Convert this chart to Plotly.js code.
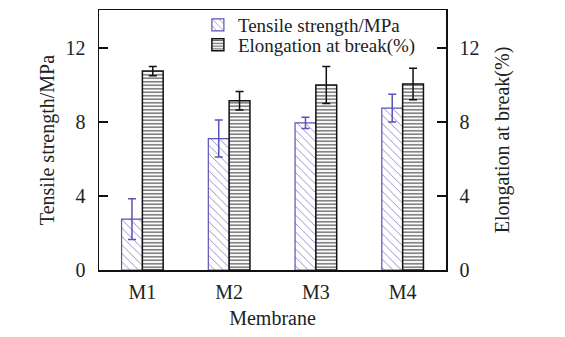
<!DOCTYPE html>
<html>
<head>
<meta charset="utf-8">
<script src="https://cdn.plot.ly/plotly-3.0.1.min.js"></script>
<style>html,body{margin:0;padding:0;background:#fff;}#chart{width:565px;height:337px;}</style>
</head>
<body>
<div id="chart"></div>
<script>
const membranes = ['M1', 'M2', 'M3', 'M4'];
const tensileStrength = [2.75, 7.1, 7.95, 8.75];
const tensileError = [1.1, 1.0, 0.3, 0.75];
const elongation = [10.75, 9.15, 10.0, 10.05];
const elongationError = [0.25, 0.5, 1.0, 0.85];
const yTicks = [0, 4, 8, 12];

const serif = 'Liberation Serif, Times New Roman, serif';
const blue = '#5a52b4';

const traces = [
  {
    type: 'bar', name: 'Tensile strength/MPa',
    x: membranes, y: tensileStrength,
    xaxis: 'x', yaxis: 'y', offsetgroup: 'a', legend: 'legend',
    marker: {
      color: 'white',
      line: {color: blue, width: 1.2},
      pattern: {shape: '\\', fgcolor: '#8a84c8', bgcolor: 'white', size: 6, solidity: 0.15}
    },
    error_y: {type: 'data', array: tensileError, visible: true, color: blue, thickness: 1.5, width: 4}
  },
  {
    type: 'bar', name: 'Elongation at break(%)',
    x: membranes, y: elongation,
    xaxis: 'x', yaxis: 'y2', offsetgroup: 'b', legend: 'legend2',
    marker: {
      color: 'white',
      line: {color: '#111', width: 1.5},
      pattern: {shape: '-', fgcolor: '#666', bgcolor: 'white', size: 3.5, solidity: 0.4}
    },
    error_y: {type: 'data', array: elongationError, visible: true, color: '#111', thickness: 1.5, width: 4}
  }
];

const legendFont = {family: serif, size: 19, color: '#222'};
const layout = {
  width: 565, height: 337,
  margin: {l: 99, r: 119, t: 10, b: 67, autoexpand: false},
  paper_bgcolor: 'white', plot_bgcolor: 'white',
  font: {family: serif, size: 19, color: '#222'},
  barmode: 'group', bargap: 0.52, bargroupgap: 0,
  showlegend: true,
  legend: {
    x: 0.285, y: 0.942, xanchor: 'left', yanchor: 'middle',
    bgcolor: 'rgba(0,0,0,0)', font: legendFont, itemwidth: 30
  },
  legend2: {
    x: 0.285, y: 0.866, xanchor: 'left', yanchor: 'middle',
    bgcolor: 'rgba(0,0,0,0)', font: legendFont, itemwidth: 30
  },
  xaxis: {
    range: [-0.5, 3.5], showline: true, mirror: true, linecolor: '#111', linewidth: 1.5,
    ticks: '', showgrid: false, zeroline: false, ticklabelstandoff: 3,
    tickfont: {family: serif, size: 20},
    title: {text: 'Membrane', font: {family: serif, size: 20}, standoff: 9}
  },
  yaxis: {
    range: [0, 14.05], tickvals: yTicks, ticks: 'inside', ticklen: 9, tickwidth: 1.2, tickcolor: '#111',
    showline: true, linecolor: '#111', linewidth: 1.5, showgrid: false, zeroline: false,
    ticklabelstandoff: 8, tickfont: {family: serif, size: 20},
    title: {text: 'Tensile strength/MPa', font: {family: serif, size: 20}, standoff: 5}
  },
  yaxis2: {
    range: [0, 14.05], tickvals: yTicks, ticks: 'inside', ticklen: 9, tickwidth: 1.2, tickcolor: '#111',
    overlaying: 'y', side: 'right', showline: true, linecolor: '#111', linewidth: 1.5,
    showgrid: false, zeroline: false, ticklabelstandoff: 8, tickfont: {family: serif, size: 20},
    title: {text: 'Elongation at break(%)', font: {family: serif, size: 20}, standoff: 16}
  }
};

Plotly.newPlot('chart', traces, layout, {displayModeBar: false, staticPlot: true});
</script>
</body>
</html>
